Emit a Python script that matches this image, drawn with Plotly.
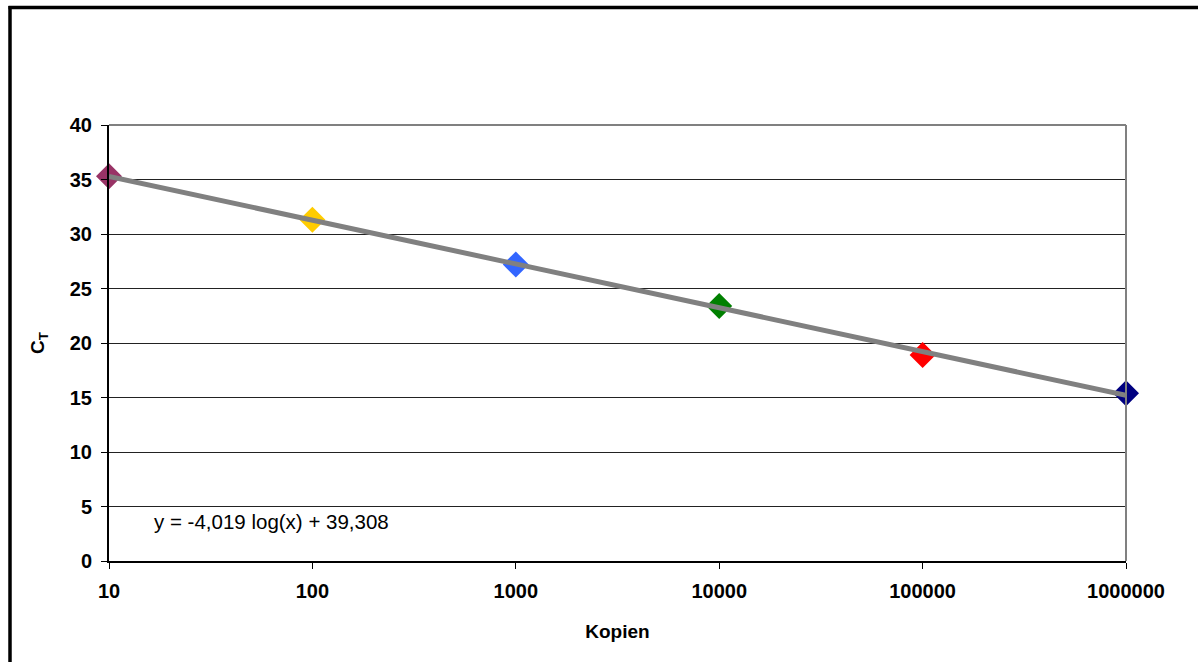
import numpy as np
import plotly.graph_objects as go

kopien = [10, 100, 1000, 10000, 100000, 1000000]
ct_values = [35.3, 31.3, 27.2, 23.4, 18.9, 15.4]
marker_colors = ["#993366", "#FFCC00", "#3366FF", "#008000", "#FF0000", "#000080"]
x_tick_labels = ["10", "100", "1000", "10000", "100000", "1000000"]
y_tick_values = [0, 5, 10, 15, 20, 25, 30, 35, 40]
trend_slope = -4.019
trend_intercept = 39.308
equation_text = "y = -4,019 log(x) + 39,308"

W, H = 1198, 662
L, R, T, B = 109, 1126, 125, 561

def px(x):
    return (x - L) / (R - L)

def py(y):
    return (B - y) / (B - T)

trend_x = [kopien[0], kopien[-1]]
trend_y = [trend_slope * np.log10(v) + trend_intercept for v in trend_x]

fig = go.Figure()
fig.add_trace(go.Scatter(
    x=kopien, y=ct_values, mode="markers", cliponaxis=False,
    marker=dict(symbol="diamond", size=20, color=marker_colors, line=dict(width=0)),
    showlegend=False, hoverinfo="x+y"))
fig.add_trace(go.Scatter(
    x=trend_x, y=trend_y, mode="lines", cliponaxis=False,
    line=dict(color="#808080", width=5),
    showlegend=False, hoverinfo="skip"))

fig.update_layout(
    width=W, height=H,
    margin=dict(l=L, r=W - R, t=T, b=H - B),
    paper_bgcolor="white", plot_bgcolor="white",
    font=dict(family="Liberation Sans, Arial, sans-serif", color="black"),
    xaxis=dict(
        type="log", range=[1, 6],
        tickvals=kopien, ticktext=["<b>%s</b>" % t for t in x_tick_labels],
        tickfont=dict(size=20), ticks="outside", ticklen=6, tickcolor="black",
        ticklabelstandoff=5,
        showgrid=False, showline=True, linecolor="black", linewidth=2,
        zeroline=False,
        title=dict(text="<b>Kopien</b>", font=dict(size=19), standoff=24),
    ),
    yaxis=dict(
        range=[0, 40],
        tickvals=y_tick_values, ticktext=["<b>%d</b>" % v for v in y_tick_values],
        tickfont=dict(size=20), ticks="outside", ticklen=6, tickcolor="black",
        ticklabelstandoff=5,
        showgrid=True, gridcolor="#222222", gridwidth=1,
        showline=True, linecolor="black", linewidth=2, zeroline=False,
        title=dict(text="<b>C<sub>T</sub></b>", font=dict(size=19), standoff=20),
    ),
    shapes=[
        dict(type="line", xref="paper", yref="paper", x0=0, x1=1, y0=1, y1=1,
             line=dict(color="#808080", width=2)),
        dict(type="line", xref="paper", yref="paper", x0=1, x1=1, y0=0, y1=1,
             line=dict(color="#808080", width=2)),
        dict(type="line", xref="paper", yref="paper", x0=px(10), x1=px(10),
             y0=py(6), y1=py(670), line=dict(color="black", width=3.5)),
        dict(type="line", xref="paper", yref="paper", x0=px(8.5), x1=px(1205),
             y0=py(7.5), y1=py(7.5), line=dict(color="black", width=3.5)),
    ],
    annotations=[
        dict(text=equation_text, xref="paper", yref="paper",
             x=px(152), y=py(521), xanchor="left", yanchor="middle",
             showarrow=False, font=dict(size=20.5, color="black")),
    ],
)

fig.write_html(
    "out.html",
    config={"displayModeBar": False},
    post_script="document.body.style.margin='0';document.body.style.overflow='hidden';",
)
